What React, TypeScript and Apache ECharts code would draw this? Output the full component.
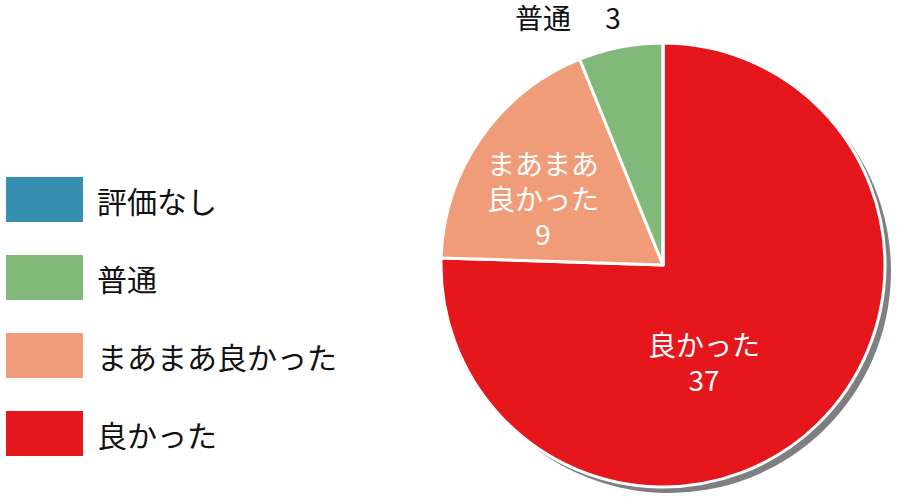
import * as echarts from 'echarts';
import { useEffect, useRef } from 'react';

const categories = ['良かった', 'まあまあ良かった', '普通', '評価なし'];
const counts = [37, 9, 3, 0];
const colors = ['#e5161c', '#f19c78', '#80b97a', '#368eb0'];
const legendOrder = ['評価なし', '普通', 'まあまあ良かった', '良かった'];

// where each slice's label sits (null = hidden)
const labelSpots: ({ x: number; y: number } | null)[] = [
  { x: 704, y: 361 },
  { x: 543, y: 198 },
  { x: 568, y: 17 },
  null,
];

const FONT = '"Noto Sans CJK JP", "Noto Sans", sans-serif';

export default function App() {
  const chartRef = useRef<HTMLDivElement>(null);

  useEffect(() => {
    document.body.style.margin = '0';
    if (!chartRef.current) return;
    const chart = echarts.init(chartRef.current, undefined, { renderer: 'svg' });

    const pieData = categories.map((name, i) => ({
      name,
      value: counts[i],
      itemStyle: { color: colors[i] },
      label:
        i === 2
          ? { show: true, color: '#111', formatter: '{b}　 {c}' }
          : { show: labelSpots[i] !== null },
    }));

    chart.setOption({
      animation: false,
      textStyle: { fontFamily: FONT },
      legend: {
        orient: 'vertical',
        left: 4,
        top: 175,
        padding: 0,
        data: legendOrder,
        icon: 'rect',
        itemWidth: 79,
        itemHeight: 47,
        itemGap: 29,
        selectedMode: false,
        textStyle: {
          fontSize: 30,
          lineHeight: 34,
          color: '#111',
          fontFamily: FONT,
          padding: [0, 0, 0, 8],
        },
      },
      series: [
        {
          // grey drop shadow behind the pie
          type: 'pie',
          silent: true,
          center: [669, 271],
          radius: 222,
          startAngle: 90,
          legendHoverLink: false,
          data: categories.map((name, i) => ({
            name: name + '_s',
            value: counts[i],
            itemStyle: { color: '#7e7f81' },
          })),
          label: { show: false },
          labelLine: { show: false },
          emphasis: { disabled: true },
        },
        {
          type: 'pie',
          center: [663, 265],
          radius: 222,
          startAngle: 90,
          clockwise: true,
          data: pieData,
          itemStyle: { borderColor: '#fff', borderWidth: 3 },
          label: {
            position: 'inside',
            color: '#fff',
            fontSize: 28,
            lineHeight: 35,
            fontFamily: FONT,
            formatter: (p: { name: string; value: number; dataIndex: number }) =>
              p.dataIndex === 1 ? `まあまあ\n良かった\n${p.value}` : `${p.name}\n${p.value}`,
          },
          labelLine: { show: false },
          labelLayout: (params: { dataIndex: number; seriesIndex: number }) => {
            const spot = labelSpots[params.dataIndex];
            if (!spot) return {};
            return { x: spot.x, y: spot.y, align: 'center', verticalAlign: 'middle' };
          },
          emphasis: { disabled: true },
        },
      ],
    });

    return () => chart.dispose();
  }, []);

  return <div ref={chartRef} style={{ width: 900, height: 504 }} />;
}
